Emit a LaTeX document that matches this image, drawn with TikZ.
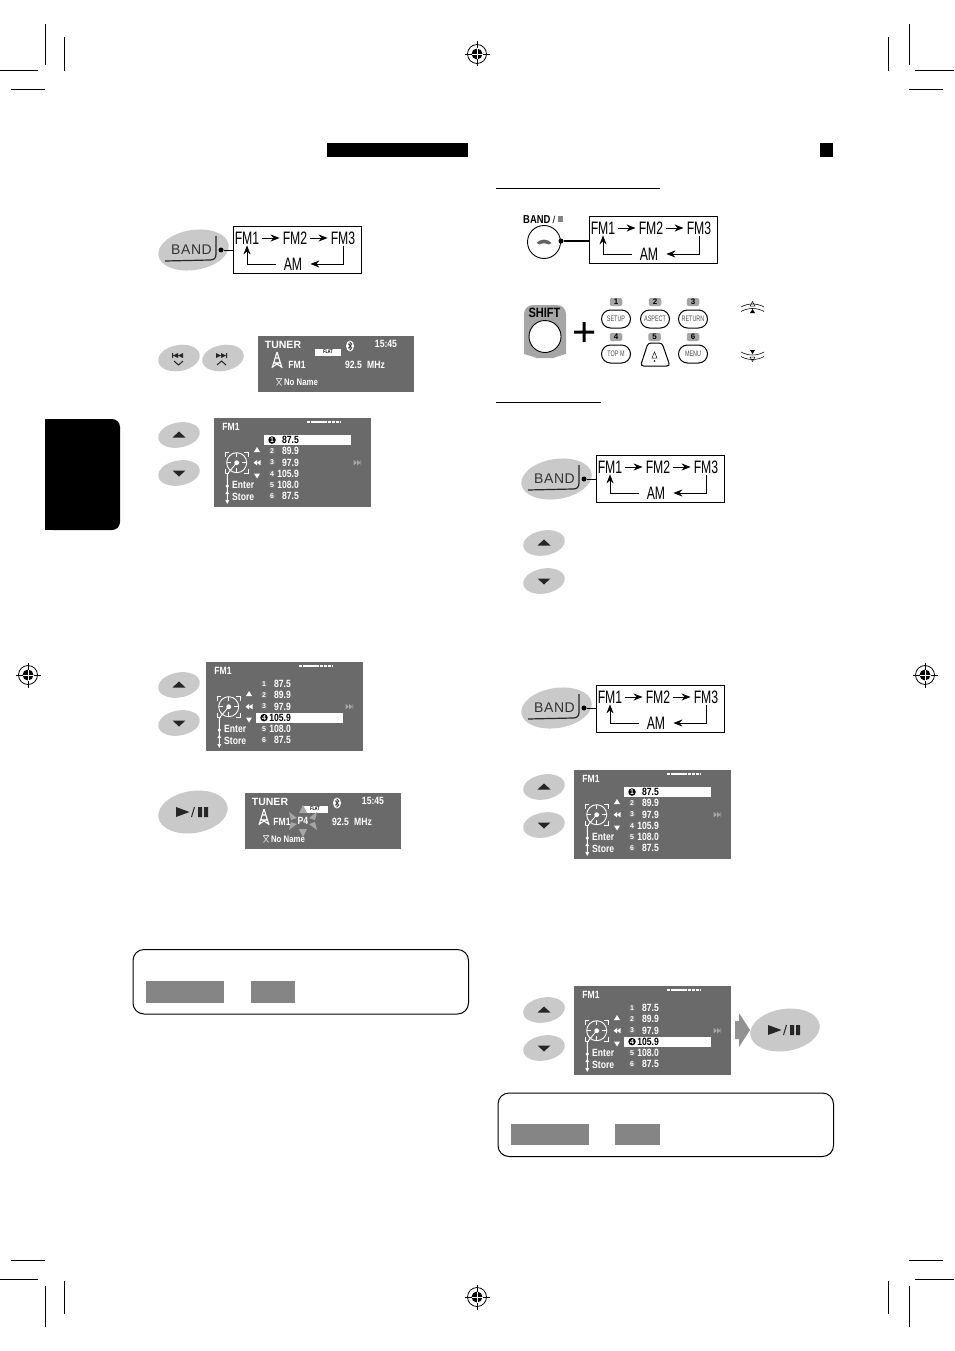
\documentclass[tikz,border=0pt]{standalone}
\usepackage{fontspec}
\setmainfont{Liberation Sans}
\newfontfamily\cond[FakeStretch=0.68]{Liberation Sans}
\newfontfamily\lcdf[FakeStretch=0.82]{Liberation Sans}
\usetikzlibrary{arrows.meta,shapes.geometric}
\definecolor{lcdgray}{HTML}{6A6A6A}
\definecolor{btngray}{HTML}{C9C9C9}
\definecolor{midgray}{HTML}{858585}
\definecolor{softgray}{HTML}{A6A6A6}
\tikzset{
  cropline/.style={line width=1pt,black},
  chainbox/.style={draw=black,line width=1.2pt,fill=white,minimum width=128,minimum height=47.5,inner sep=0},
  chaintxt/.style={font=\cond\fontsize{18}{18}\selectfont,inner xsep=3pt,inner ysep=1pt,text=black},
  chainarr/.style={line width=1pt,-{Stealth[length=9pt,width=7pt,inset=3pt]}},
  softbtn/.style={ellipse,fill=btngray,inner sep=0},
  lcdbox/.style={fill=lcdgray,draw=none,inner sep=0,anchor=north west},
  lcdtxt/.style={text=white,font=\lcdf\bfseries\fontsize{10.5}{10.5}\selectfont,inner sep=0},
  numtag/.style={circle,fill=black!55,minimum size=7.5,inner sep=0,text=white,font=\bfseries\fontsize{7}{7}\selectfont},
  keypill/.style={draw=black,line width=1pt,fill=white,rounded corners=9pt,minimum width=29,minimum height=18,inner sep=0,font=\cond\fontsize{8}{8}\selectfont,text=black!70},
  keytag/.style={fill=softgray,rounded corners=2pt,minimum width=12.5,minimum height=8,inner sep=0,font=\bfseries\fontsize{8}{8}\selectfont},
  greybox/.style={fill=midgray,draw=none,inner sep=0,anchor=north west},
  infobox/.style={draw=black,line width=1pt,fill=white,rounded corners=11pt,inner sep=0,anchor=north west},
}
\newcommand{\regmark}[3]{%
 \begin{scope}[shift={(#2,#3)},name prefix=#1-]
  \draw[line width=.8pt] (0,0) circle (9.5);
  \fill[black] (0,0) circle (5.5);
  \draw[line width=.8pt] (-12.5,0) -- (-5.5,0) (5.5,0) -- (12.5,0) (0,-12.5) -- (0,-5.5) (0,5.5) -- (0,12.5);
  \draw[white,line width=.8pt] (-5.5,0) -- (5.5,0) (0,-5.5) -- (0,5.5);
 \end{scope}}
\newcommand{\bandchain}[3]{%
 \begin{scope}[shift={(#2,#3)},name prefix=#1-]
  \node[chainbox] (box) at (64.5,24) {};
  \node[chaintxt] (f1) at (14,12) {FM1};
  \node[chaintxt] (f2) at (62,12) {FM2};
  \node[chaintxt] (f3) at (110,12) {FM3};
  \node[chaintxt,inner xsep=8pt] (am) at (60,38) {AM};
  \draw[chainarr] (f1) -- (f2);
  \draw[chainarr] (f2) -- (f3);
  \draw[chainarr] (f3.south) |- (am.east);
  \draw[chainarr] (am.west) -| (f1.south);
 \end{scope}}
\newcommand{\bandbtn}[3]{%
 \begin{scope}[shift={(#2,#3)},name prefix=#1-]
  \node[softbtn,minimum width=71,minimum height=40,rotate=9] (oval) at (-.5,0) {};
  \node[text=black!80,font=\fontsize{14}{14}\selectfont,inner sep=0] (lbl) at (-2.5,0) {\addfontfeature{LetterSpace=4}BAND};
  \draw[line width=1.2pt,black!85] (22,-14) -- (22,4) .. controls (22,8) and (20,10) .. (16,10) -- (-29,11);
  \node[circle,fill=black,minimum size=5,inner sep=0] (dot) at (27,0) {};
 \end{scope}}
\newcommand{\updown}[3]{%
 \begin{scope}[shift={(#2,#3)},name prefix=#1-]
  \node[softbtn,minimum width=42,minimum height=25,rotate=10] (up) at (0,0) {};
  \node[softbtn,minimum width=42,minimum height=25,rotate=10] (dn) at (0,38) {};
  \fill[black!85] (-6.5,2.5) -- (6.5,2.5) -- (0,-3.5) -- cycle;
  \fill[black!85] (-6.5,35.5) -- (6.5,35.5) -- (0,41.5) -- cycle;
 \end{scope}}
\newcommand{\playbtn}[3]{%
 \begin{scope}[shift={(#2,#3)},name prefix=#1-]
  \node[softbtn,minimum width=70,minimum height=42,rotate=9] (oval) at (0,0) {};
  \fill[black!85] (-17,-5) -- (-3.5,0) -- (-17,5) -- cycle;
  \draw[line width=1pt,black!85] (-1.5,5) -- (1.5,-5);
  \fill[black!85] (5,-5) rectangle (9,5) (11,-5) rectangle (15,5);
 \end{scope}}
\newcommand{\towericon}{%
  \draw[white,line width=1.1pt,line join=round] (0,-9) -- (-5,7) (0,-9) -- (5,7) (-3.5,2) -- (3.5,2) (-2,-3) -- (2,-3) (-4.5,6) -- (3,1) (4.5,6) -- (-3,1);
}
\newcommand{\btrune}[2]{%
  \fill[white] (#1,#2) ellipse (4 and 5.5);
  \draw[black!80,line width=.6pt] (#1-2,#2-2.5) -- (#1+2,#2+2) -- (#1,#2+4) -- (#1,#2-4) -- (#1+2,#2-2) -- (#1-2,#2+2.5);
}
\newcommand{\noname}[2]{%
  \draw[white!85!black,line width=.7pt] (#1-3,#2-3.5) -- (#1+3,#2-3.5) (#1-2.5,#2+3.5) -- (#1+2.5,#2-3) (#1+2.5,#2+3.5) -- (#1-2.5,#2-3);
}
% tuner screen
\newcommand{\tunerlcd}[4]{%
 \begin{scope}[shift={(#2,#3)},name prefix=#1-]
  \node[lcdbox,minimum width=156,minimum height=56] (bg) at (0,0) {};
  \node[lcdtxt,font=\bfseries\fontsize{10.5}{10.5}\selectfont] (t) at (25,9) {TUNER};
  \node[fill=white,minimum width=26,minimum height=7,inner sep=0,font=\cond\bfseries\fontsize{5.5}{5.5}\selectfont] (flat) at (70,16) {FLAT};
  \btrune{92}{10}
  \node[lcdtxt] (clock) at (128,8) {15:45};
  \begin{scope}[shift={(19,25)}]\towericon\end{scope}
  \node[lcdtxt] (fm) at (#4,29) {FM1};
  \node[lcdtxt] (freq) at (95.5,29) {92.5};
  \node[lcdtxt] (mhz) at (118,29) {MHz};
  \noname{21}{46}
  \node[lcdtxt,font=\lcdf\bfseries\fontsize{9.5}{9.5}\selectfont] (nn) at (43,46.5) {No Name};
 \end{scope}}
% preset screen
\newcommand{\presetlcd}[4]{%
 \begin{scope}[shift={(#2,#3)},name prefix=#1-]
  \node[lcdbox,minimum width=156.5,minimum height=89] (bg) at (0,0) {};
  \node[lcdtxt] (title) at (17,8.5) {FM1};
  \draw[white,line width=1.3pt,dash pattern=on 3.4pt off .7pt] (93,4) -- (126,4);
  \fill[white] (50,#4*11.2+17) rectangle (137,#4*11.2+27);
  \foreach \i/\v [count=\r from 1] in {0/87.5,1/89.9,2/97.9,3/105.9,4/108.0,5/87.5}{
    \pgfmathsetmacro{\yy}{22+\i*11.2}
    \ifnum\i=#4\relax
      \node[numtag,fill=black] (n\r) at (58,\yy) {\r};
      \node[lcdtxt,text=black,anchor=east] (v\r) at (85,\yy) {\v};
    \else
      \node[numtag] (n\r) at (58,\yy) {\r};
      \node[lcdtxt,anchor=east] (v\r) at (85,\yy) {\v};
    \fi
  }
  % dial
  \draw[white,line width=.9pt] (22.7,44.7) circle (10);
  \draw[white,line width=.8pt] (11,38.5) |- (15,34) (30,34) -| (34.5,38.5) (34.5,50.5) |- (30,55.5) (15,55.5) -| (11,50.5);
  \draw[white,line width=.8pt] (12.7,44.7) -- (17,44.7) (28.4,44.7) -- (32.7,44.7) (22.7,34.7) -- (22.7,39) (22.7,50.4) -- (22.7,54.7);
  \fill[white] (22.7,44.7) circle (2.4);
  \draw[white,line width=.9pt] (22.7,44.7) -- (13.3,56) -- (13.3,84);
  \fill[white] (13.3,68) circle (1.8);
  \fill[white] (11.3,76) -- (15.3,76) -- (13.3,73) -- cycle (11.3,82) -- (15.3,82) -- (13.3,86) -- cycle;
  \node[lcdtxt,anchor=west] (ent) at (18,67) {Enter};
  \node[lcdtxt,anchor=west] (sto) at (18,78.5) {Store};
  \fill[white] (40,34) -- (46,34) -- (43,29) -- cycle (40,55.5) -- (46,55.5) -- (43,60.5) -- cycle;
  \fill[white] (43,44.7) -- (46.5,42) -- (46.5,47.4) -- cycle (39.5,44.7) -- (43,42) -- (43,47.4) -- cycle;
  \fill[softgray] (143,44.7) -- (139.5,42) -- (139.5,47.4) -- cycle (146.5,44.7) -- (143,42) -- (143,47.4) -- cycle (146.5,42) rectangle (147.2,47.4);
 \end{scope}}
\begin{document}
\begin{tikzpicture}[x=1pt,y=-1pt]
\useasboundingbox (0,0) rectangle (954,1351);
\fill[white] (0,0) rectangle (954,1351);
% crop marks
\draw[cropline] (45,24) -- (45,65) (64,37) -- (64,71) (0,71) -- (38,71) (11,90) -- (45,90);
\draw[cropline] (909,24) -- (909,65) (888,37) -- (888,71) (915,71) -- (954,71) (909,90) -- (943,90);
\draw[cropline] (45,1286) -- (45,1327) (64,1281) -- (64,1314) (0,1279) -- (38,1279) (11,1260) -- (45,1260);
\draw[cropline] (909,1286) -- (909,1327) (888,1281) -- (888,1314) (915,1279) -- (954,1279) (909,1260) -- (943,1260);
\regmark{r1}{477}{54}
\regmark{r2}{28}{675}
\regmark{r3}{925}{675}
\regmark{r4}{477}{1297}
% header bars, side tab, rules
\fill[black] (327,143) rectangle (468,157);
\fill[black] (820,143) rectangle (833,157);
\fill[black,rounded corners=8pt] (45,419) -- (120,419) -- (120,530) -- (45,530) -- cycle;
\fill[black] (45,419) rectangle (60,530);
\draw[line width=1pt] (496,189) -- (660,189);
\draw[line width=1pt] (496,402) -- (601,402);
% left column
\bandbtn{b1}{194}{250}
\bandchain{c1}{233}{226}
\draw[line width=1pt] (b1-dot) -- (b1-dot -| c1-box.west);
% skip buttons
\node[softbtn,minimum width=42,minimum height=26,rotate=10] (skL) at (179,358) {};
\node[softbtn,minimum width=42,minimum height=26,rotate=10] (skR) at (223,358) {};
\fill[black!85] (172,353) rectangle (173,358) (173,355.5) -- (178,353) -- (178,358) -- cycle (178,355.5) -- (183,353) -- (183,358) -- cycle;
\draw[line width=1pt,black!85] (174,361) -- (178.5,365) -- (183,361);
\fill[black!85] (216,353) -- (221,355.5) -- (216,358) -- cycle (221,353) -- (226,355.5) -- (221,358) -- cycle (226,353) rectangle (227,358);
\draw[line width=1pt,black!85] (217,365) -- (221.5,361) -- (226,365);
\tunerlcd{t1}{258}{336}{39}
\updown{u1}{179}{435}
\presetlcd{p1}{214}{418}{0}
\updown{u2}{179}{685}
\presetlcd{p2}{206}{662}{3}
\playbtn{pl1}{193}{812}
\tunerlcd{t2}{245}{793}{37}
\begin{scope}[shift={(245,793)}]
 \fill[softgray] (54,20) -- (62,20) -- (58,12) -- cycle (54,36) -- (62,36) -- (58,44) -- cycle;
 \fill[softgray] (44,19) -- (52,25) -- (46,27) -- cycle (72,19) -- (64,25) -- (70,27) -- cycle;
 \fill[softgray] (44,37) -- (52,31) -- (46,29) -- cycle (72,37) -- (64,31) -- (70,29) -- cycle;
 \node[lcdtxt] (p4) at (58,28) {P4};
\end{scope}
\node[infobox,minimum width=335.5,minimum height=64.5] (info1) at (132.5,949) {};
\node[greybox,minimum width=78,minimum height=22] (g1a) at (146,981) {};
\node[greybox,minimum width=44,minimum height=22] (g1b) at (251,981) {};
% right column: remote
\node[font=\lcdf\bfseries\fontsize{11.5}{11.5}\selectfont,inner sep=0,anchor=west] (bandr) at (523,219.5) {BAND};
\node[font=\fontsize{10}{10}\selectfont,inner sep=0] (sl) at (554,219.5) {/};
\fill[midgray] (557.5,216) rectangle (563,222);
\node[circle,draw=black,line width=.9pt,fill=white,minimum size=33,inner sep=0] (phone) at (544,242) {};
\fill[softgray!60!black] (536.5,243) .. controls (540,238.5) and (548,238.5) .. (551.5,243) -- (548.5,244.5) .. controls (546,243) and (542,243) .. (539.5,244.5) -- cycle;
\node[circle,fill=black,minimum size=5,inner sep=0] (pdot) at (561,241) {};
\bandchain{c2}{589}{216}
\draw[line width=1.5pt] (pdot) -- (pdot -| c2-box.west);
% shift + keys
\fill[softgray,rounded corners=9pt] (524,305) -- (566,305) -- (566,345) .. controls (566,354) and (552,358) .. (545,358) .. controls (538,358) and (524,354) .. (524,345) -- cycle;
\node[font=\lcdf\bfseries\fontsize{13.5}{13.5}\selectfont,inner sep=0] (shift) at (544.5,313) {SHIFT};
\node[circle,draw=black,line width=.9pt,fill=white,minimum size=32,inner sep=0] (shc) at (545,336.5) {};
\fill[black] (574,330.5) rectangle (594,333.5) (582.5,322) rectangle (585.5,342);
\foreach \nm/\lab/\xx/\yy/\nn in {k1/SETUP/616/319/1,k2/ASPECT/655/319/2,k3/RETURN/693/319/3,k4/TOP M/616/354/4,k6/MENU/693/354/6}{
  \node[keypill] (\nm) at (\xx,\yy) {\lab};
  \node[keytag] (tag\nm) at (\xx,\yy-17) {\nn};
}
\node[keytag] (tagk5) at (654.5,337) {5};
\draw[line width=1pt,fill=white,rounded corners=3pt] (648,343) -- (662,343) -- (670,366) -- (640.5,366) -- cycle;
\draw[line width=.5pt] (654.5,352) -- (652,358) -- (657,358) -- cycle;
\fill[black] (654.5,361) circle (.9);
% cursor icons
\draw[line width=.6pt] (741,307) .. controls (748,303) and (757,303) .. (764,307) (741,311.5) .. controls (748,307.5) and (757,307.5) .. (764,311.5);
\draw[line width=.5pt] (752.5,301.5) -- (750,306) -- (755,306) -- cycle;
\fill[black] (752.5,309) -- (750,313) -- (755,313) -- cycle;
\draw[line width=.6pt] (741,352) .. controls (748,356) and (757,356) .. (764,352) (741,356.5) .. controls (748,360.5) and (757,360.5) .. (764,356.5);
\fill[black] (752.5,354) -- (750,350) -- (755,350) -- cycle;
\draw[line width=.5pt] (752.5,361.5) -- (750,357) -- (755,357) -- cycle;
% right column: lower part
\bandbtn{b3}{557}{479}
\bandchain{c3}{596}{455}
\draw[line width=1pt] (b3-dot) -- (b3-dot -| c3-box.west);
\updown{u3}{544}{543}
\bandbtn{b4}{557}{708}
\bandchain{c4}{596}{685}
\draw[line width=1pt] (b4-dot) -- (b4-dot -| c4-box.west);
\updown{u4}{544}{787}
\presetlcd{p3}{574}{770}{0}
\updown{u5}{544}{1010}
\presetlcd{p4}{574}{986}{3}
\fill[midgray!90!white] (735,1021) -- (739,1021) -- (739,1013) -- (750,1030) -- (739,1047) -- (739,1039) -- (735,1039) -- cycle;
\playbtn{pl2}{785}{1030}
\node[infobox,minimum width=335.5,minimum height=63.5] (info2) at (497.5,1092.5) {};
\node[greybox,minimum width=78,minimum height=21] (g2a) at (511,1124) {};
\node[greybox,minimum width=45,minimum height=21] (g2b) at (615,1124) {};
\end{tikzpicture}
\end{document}
